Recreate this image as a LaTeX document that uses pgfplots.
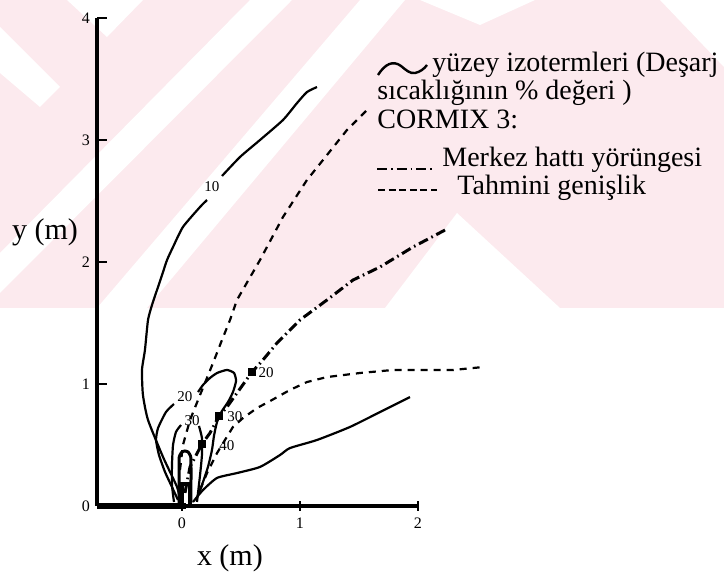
\documentclass[border=0pt]{standalone}
\usepackage{pgfplots}
\pgfplotsset{compat=1.18}
\usepackage{fontspec}
\setmainfont{Liberation Serif}
\definecolor{wm}{RGB}{252,234,238}
\begin{document}
\begin{tikzpicture}
\useasboundingbox (0,0) rectangle (362pt,-288pt);
\begin{scope}[x=0.5pt,y=-0.5pt]
\fill[white] (0,0) rectangle (724,576);
\fill[wm] (0,0) rectangle (724,308);
\fill[white] (0,27) -- (60,87) -- (40,107) -- (0,73) -- cycle;
\fill[white] (67,0) -- (143,0) -- (107,37) -- cycle;
\fill[white] (0,253) -- (250,0) -- (292,0) -- (0,293) -- cycle;
\fill[white] (97,308) -- (360,0) -- (405,0) -- (147,308) -- cycle;
\fill[white] (420,0) -- (535,0) -- (480,25) -- cycle;
\fill[white] (457,213) -- (385,308) -- (560,308) -- cycle;
\fill[white] (660,0) -- (724,0) -- (724,67) -- cycle;
\end{scope}
\begin{axis}[
  at={(91pt,-253pt)}, anchor=origin,
  x=59pt, y=61pt,
  xmin=-0.72, xmax=2, ymin=0, ymax=4,
  axis lines*=left,
  axis line style={line width=1.8pt, black},
  xtick={0,1,2}, ytick={0,1,2,3,4},
  ytick align=inside, xtick align=center,
  major tick length=5pt,
  tick style={line width=1.2pt, black},
  /pgf/number format/assume math mode=true,
  ticklabel style={font=\fontsize{8}{8}\selectfont},
  xlabel={x (m)}, ylabel={y (m)},
  label style={font=\fontsize{15}{15}\selectfont},
  xlabel style={at={(axis description cs:0.414,-0.107)}, anchor=center},
  ylabel style={rotate=-90, at={(axis description cs:-0.162,0.561)}, anchor=center},
  clip=false,
  iso/.style={black, line width=1.1pt, smooth, tension=0.35},
]
% isotherm 10
\addplot[iso] coordinates {(-0.017,0.049) (-0.042,0.156) (-0.161,0.402) (-0.288,0.705) (-0.331,0.910) (-0.339,1.115) (-0.314,1.279) (-0.288,1.525) (-0.254,1.648) (-0.212,1.770) (-0.169,1.893) (-0.127,2.016) (-0.076,2.123) (0.008,2.287) (0.153,2.451) (0.212,2.508)};
\addplot[iso] coordinates {(0.339,2.705) (0.492,2.861) (0.661,3.000) (0.856,3.164) (0.975,3.303) (1.059,3.393) (1.144,3.434)};
\addplot[iso] coordinates {(0.093,0.033) (0.178,0.131) (0.297,0.230) (0.466,0.270) (0.661,0.320) (0.831,0.418) (0.915,0.475) (1.144,0.541) (1.424,0.648) (1.678,0.770) (1.932,0.893)};
% isotherm 20
\addplot[iso] coordinates {(-0.034,0.049) (-0.085,0.156) (-0.144,0.279) (-0.195,0.418) (-0.220,0.541) (-0.203,0.639) (-0.136,0.770) (-0.068,0.836)};
\addplot[iso] coordinates {(0.136,0.934) (0.178,0.992) (0.237,1.049) (0.297,1.090) (0.381,1.115) (0.441,1.090) (0.458,1.025) (0.432,0.934) (0.390,0.852) (0.339,0.779) (0.297,0.689) (0.271,0.574) (0.254,0.459) (0.220,0.320) (0.169,0.172) (0.119,0.049)};
% isotherm 30
\addplot[iso] coordinates {(-0.068,0.033) (-0.085,0.172) (-0.085,0.336) (-0.076,0.500) (-0.051,0.607) (-0.008,0.664)};
\addplot[iso] coordinates {(0.144,0.656) (0.169,0.557) (0.169,0.418) (0.153,0.254) (0.127,0.033)};
% inner tube and pipe
\addplot[black, line width=1.5pt, smooth, tension=0.3] coordinates {(-0.025,0.025) (-0.025,0.377) (-0.017,0.418) (0,0.443) (0.025,0.451) (0.051,0.443) (0.068,0.418) (0.076,0.377) (0.076,0.025)};
\addplot[black, line width=1.8pt] coordinates {(0.0,0) (0.0,0.18) (0.068,0.18) (0.068,0)};
% centreline trajectory
\addplot[black, line width=1.5pt, dash pattern=on 5pt off 2pt on 0.8pt off 2pt] coordinates {(0.025,0.107) (0.068,0.320) (0.169,0.508) (0.237,0.598) (0.314,0.738) (0.381,0.811) (0.466,0.926) (0.593,1.098) (0.686,1.197) (0.805,1.336) (1.000,1.525) (1.229,1.689) (1.449,1.852) (1.678,1.959) (1.958,2.123) (2.229,2.262)};
\addplot[only marks, mark=square*, mark size=1.8pt, black] coordinates {(0.593,1.098) (0.314,0.738) (0.169,0.508)};
% width lines
\addplot[black, line width=1.1pt, dash pattern=on 3.5pt off 3pt] coordinates {(-0.017,0.295) (0.008,0.500) (0.068,0.705) (0.153,0.910) (0.263,1.172) (0.339,1.361) (0.407,1.525) (0.466,1.689) (0.661,2.016) (0.856,2.369) (1.059,2.672) (1.195,2.836) (1.398,3.082) (1.568,3.246)};
\addplot[black, line width=1.1pt, dash pattern=on 3.5pt off 3pt] coordinates {(0.153,0.131) (0.212,0.270) (0.297,0.434) (0.364,0.541) (0.432,0.648) (0.517,0.721) (0.636,0.803) (0.763,0.869) (0.915,0.951) (1.059,1.016) (1.229,1.057) (1.508,1.090) (1.788,1.115) (2.076,1.115) (2.297,1.115) (2.551,1.139)};
\draw[black, line width=2.6pt] (axis cs:-0.72,0) -- (axis cs:0.03,0);
% labels
\begin{scope}[font=\fontsize{7.5}{7.5}\selectfont, inner sep=0.5pt]
\node at (axis cs:0.254,2.615) {10};
\node at (axis cs:0.025,0.893) {20};
\node at (axis cs:0.085,0.697) {30};
\node at (axis cs:0.712,1.090) {20};
\node at (axis cs:0.449,0.730) {30};
\node at (axis cs:0.381,0.492) {40};
\end{scope}
\end{axis}
\begin{scope}[x=0.5pt,y=-0.5pt, font=\fontsize{14}{16}\selectfont]
\draw[black, line width=1.2pt] (378,75) .. controls (385,64) and (393,60) .. (401,66) .. controls (406,70) and (410,74) .. (415,73) .. controls (420,72) and (424,69) .. (427,65);
\node[anchor=base west, inner sep=0] at (432,72) {yüzey izotermleri (Deşarj};
\node[anchor=base west, inner sep=0] at (377,100) {sıcaklığının \% değeri )};
\node[anchor=base west, inner sep=0] at (377,129) {CORMIX 3:};
\draw[black, line width=1.4pt, dash pattern=on 5pt off 2pt on 0.8pt off 2pt] (377,169) -- (434,169);
\node[anchor=base west, inner sep=0] at (442,167) {Merkez hattı yörüngesi};
\draw[black, line width=1.1pt, dash pattern=on 3.5pt off 1.8pt] (378,190) -- (437,190);
\node[anchor=base west, inner sep=0] at (457,195) {Tahmini genişlik};
\end{scope}
\end{tikzpicture}
\end{document}
